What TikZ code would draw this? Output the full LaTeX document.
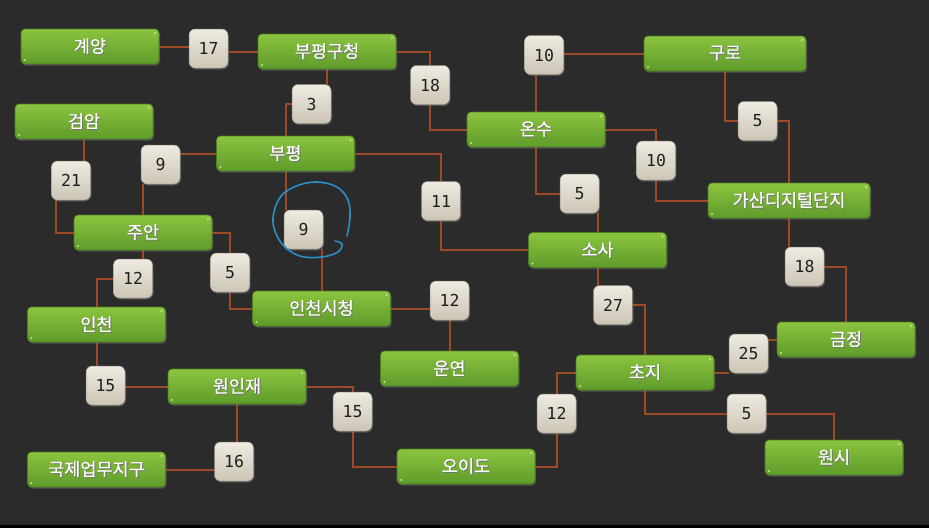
\documentclass[tikz,border=0pt]{standalone}
\usepackage{fontspec}
\newfontfamily\kr[FakeBold=0.3]{Noto Sans CJK KR}
\newfontfamily\mono{DejaVu Sans Mono}
\usetikzlibrary{shadows,backgrounds}
\definecolor{bgc}{HTML}{2B2B2B}
\definecolor{gtop}{HTML}{8CC43F}
\definecolor{gbot}{HTML}{5E9B2A}
\definecolor{gedge}{HTML}{4C7D1F}
\definecolor{gdot}{HTML}{C8E6A0}
\definecolor{ntop}{HTML}{EFEBE2}
\definecolor{nbot}{HTML}{CCC5B5}
\definecolor{nedge}{HTML}{9A9487}
\definecolor{wirec}{HTML}{9E4A27}
\definecolor{inkc}{HTML}{2A8FC8}
\newcommand\stxt[1]{\rlap{\hspace{0.9pt}\raisebox{-0.9pt}{\color{black!55}#1}}#1}
\begin{document}
\begin{tikzpicture}[x=1pt,y=-1pt,
 station/.style={rounded corners=4pt, top color=gtop, bottom color=gbot, draw=gedge,
   line width=0.6pt, minimum width=138pt, minimum height=35pt, inner sep=0pt,
   text=white, font=\kr\fontsize{17.5}{20}\selectfont,
   drop shadow={shadow xshift=1pt, shadow yshift=-1.5pt, opacity=0.45},
   path picture={
     \fill[gdot] ([shift={(-4pt,-4pt)}]path picture bounding box.north east) circle (1.2pt);
     \fill[gdot] ([shift={(4pt,4pt)}]path picture bounding box.south west) circle (1.2pt);}},
 wide/.style={minimum width=162pt},
 cost/.style={rounded corners=6pt, top color=ntop, bottom color=nbot, draw=nedge,
   line width=0.5pt, minimum width=39pt, minimum height=39pt, inner sep=0pt,
   text=black!88, font=\mono\fontsize{16.5}{18}\selectfont,
   drop shadow={shadow xshift=1pt, shadow yshift=-1.5pt, opacity=0.4}},
 link/.style={draw=wirec, line width=2pt}]
\useasboundingbox (0,0) rectangle (929,528);

% stations
\node[station] (gy)   at (90,46.5)   {\stxt{계양}};
\node[station] (bpgc) at (327,51.5)  {\stxt{부평구청}};
\node[station,wide] (guro) at (725,53.5) {\stxt{구로}};
\node[station] (gam)  at (84,121.5)  {\stxt{검암}};
\node[station] (onsu) at (536,129.5) {\stxt{온수}};
\node[station] (bp)   at (285.5,153.5) {\stxt{부평}};
\node[station,wide] (gasan) at (789,200.5) {\stxt{가산디지털단지}};
\node[station] (juan) at (143,232.5) {\stxt{주안}};
\node[station] (sosa) at (597.5,250) {\stxt{소사}};
\node[station] (icsc) at (321.5,308.5) {\stxt{인천시청}};
\node[station] (ic)   at (96.5,324.5) {\stxt{인천}};
\node[station] (gj)   at (846,339.5) {\stxt{금정}};
\node[station] (uy)   at (449.5,368.5) {\stxt{운연}};
\node[station] (chj)  at (645,372.5) {\stxt{초지}};
\node[station] (wij)  at (237,386.5) {\stxt{원인재}};
\node[station] (oid)  at (466,466.5) {\stxt{오이도}};
\node[station] (gjeu) at (96.5,469.5) {\stxt{국제업무지구}};
\node[station] (ws)   at (834,457.5) {\stxt{원시}};

% costs
\node[cost] (n17)  at (208.5,48.5) {17};
\node[cost] (n18a) at (430,85)     {18};
\node[cost] (n3)   at (311.5,104)  {3};
\node[cost] (n21)  at (71,180.5)   {21};
\node[cost] (n9a)  at (160.5,164.5) {9};
\node[cost] (n11)  at (441,201)    {11};
\node[cost] (n9b)  at (303.5,229.5) {9};
\node[cost] (n5a)  at (230,272.5)  {5};
\node[cost] (n12a) at (133,278.5)  {12};
\node[cost] (n15a) at (105.5,385.5) {15};
\node[cost] (n16)  at (234,461.5)  {16};
\node[cost] (n15b) at (352.5,411.5) {15};
\node[cost] (n12b) at (449.5,300.5) {12};
\node[cost] (n12c) at (556.5,413.5) {12};
\node[cost] (n27)  at (613,305)    {27};
\node[cost] (n25)  at (748.5,353.5) {25};
\node[cost] (n18b) at (804.5,266.5) {18};
\node[cost] (n5b)  at (757.5,121)  {5};
\node[cost] (n10a) at (544,55)     {10};
\node[cost] (n10b) at (656,160.5)  {10};
\node[cost] (n5c)  at (579.5,193.5) {5};
\node[cost] (n5d)  at (746.5,413.5) {5};

\begin{scope}[on background layer]
\fill[bgc] (0,0) rectangle (929,525);
\fill[black] (0,525) rectangle (929,528);
\draw[link] (gy.east) -- (gy.east -| n17.west);
\draw[link] (bpgc.west) -- (bpgc.west -| n17.east);
\draw[link] (bpgc.east) -| (n18a.north);
\draw[link] (n18a.south) |- (onsu.west);
\draw[link] (bpgc.south) -- (bpgc.south |- n3.north);
\draw[link] (bp.north) |- (n3.west);
\draw[link] (gam.south) -- (gam.south |- n21.north);
\draw[link] ([xshift=-15pt]n21.south) |- (juan.west);
\draw[link] (bp.west) -- (bp.west -| n9a.east);
\draw[link] (juan.north) -- (juan.north |- n9a.south);
\draw[link] (bp.east) -| (n11.north);
\draw[link] (n11.south) |- (sosa.west);
\draw[link] (bp.south) -- (bp.south |- n9b.north);
\draw[link] (icsc.north) -- (icsc.north |- n9b.south);
\draw[link] (juan.east) -| (n5a.north);
\draw[link] (n5a.south) |- (icsc.west);
\draw[link] (juan.south) -- (juan.south |- n12a.north);
\draw[link] (ic.north) |- (n12a.west);
\draw[link] (ic.south) -- (ic.south |- n15a.north);
\draw[link] (wij.west) -- (wij.west -| n15a.east);
\draw[link] (wij.south) -- (wij.south |- n16.north);
\draw[link] (gjeu.east) -- (gjeu.east -| n16.west);
\draw[link] (wij.east) -| (n15b.north);
\draw[link] (n15b.south) |- (oid.west);
\draw[link] (icsc.east) -- (icsc.east -| n12b.west);
\draw[link] (uy.north) -- (uy.north |- n12b.south);
\draw[link] (oid.east) -| (n12c.south);
\draw[link] (n12c.north) |- (chj.west);
\draw[link] (chj.north) |- (n27.east);
\draw[link] (sosa.south) -- (sosa.south |- n27.north);
\draw[link] (chj.east) -- (chj.east -| n25.west);
\draw[link] (gj.west) -- (gj.west -| n25.east);
\draw[link] (gj.north) |- (n18b.east);
\draw[link] (gasan.south) -- (gasan.south |- n18b.north);
\draw[link] (gasan.north) |- (n5b.east);
\draw[link] (guro.south) |- (n5b.west);
\draw[link] (guro.west) -- (guro.west -| n10a.east);
\draw[link] (onsu.north) -- (onsu.north |- n10a.south);
\draw[link] (onsu.east) -| (n10b.north);
\draw[link] (n10b.south) |- (gasan.west);
\draw[link] (onsu.south) |- (n5c.west);
\draw[link] (sosa.north) -- (sosa.north |- n5c.south);
\draw[link] (chj.south) |- (n5d.west);
\draw[link] (n5d.east) -| (ws.north);
\end{scope}

% hand-drawn circle
\draw[inkc, line width=1.6pt, line cap=round, line join=round]
  plot[smooth, tension=0.6] coordinates {(335,241) (342,244) (338,252) (322,257) (300,256)
  (282,244) (273,222) (279,199) (294,187) (316,182) (337,187) (348,200) (350,217) (347,236)};
\end{tikzpicture}
\end{document}
